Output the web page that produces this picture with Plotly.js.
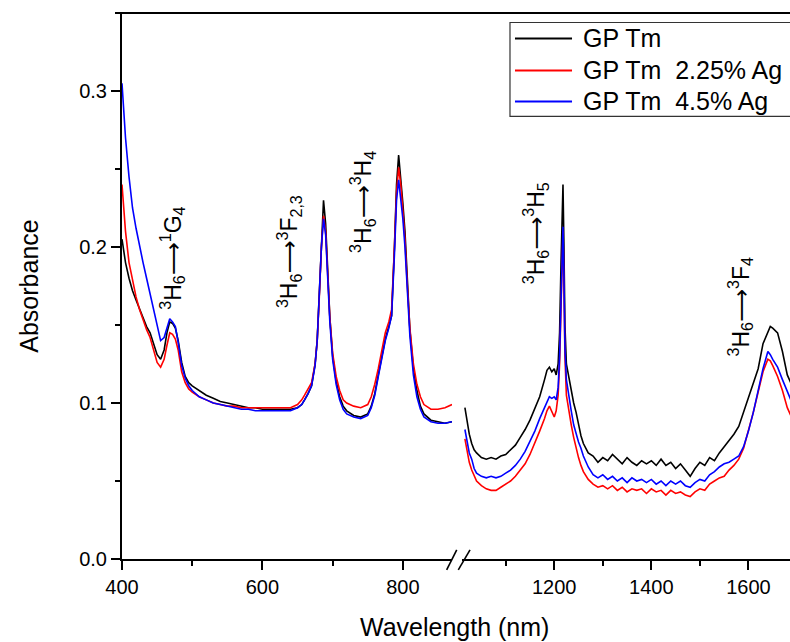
<!DOCTYPE html>
<html>
<head>
<meta charset="utf-8">
<script src="https://cdn.plot.ly/plotly-3.0.1.min.js"></script>
<style>
html,body{margin:0;padding:0;overflow:hidden;background:#fff;}
#chart{width:830px;height:642px;}
</style>
</head>
<body>
<div id="chart"></div>
<script>
// ---- data ----
const seriesNames = ["GP Tm", "GP Tm\u00a0 2.25% Ag", "GP Tm\u00a0 4.5% Ag"];
const seriesColors = ["#000000", "#ff0000", "#0000ff"];

const leftWavelength = [400,405,410,415,420,425,430,435,440,445,
  450,455,460,464,468,472,476,480,485,490,
  495,500,510,520,530,540,550,560,570,580,
  590,600,610,620,630,640,650,656,660,665,
  670,675,678,681,684,687,690,693,696,700,
  705,710,715,720,730,740,750,755,760,765,
  770,775,780,784,788,791,794,797,800,803,
  806,810,815,820,825,830,840,850,860,870];

const rightWavelength = [1016,1020,1025,1030,1035,1040,1050,1060,1070,1080,
  1090,1100,1110,1120,1130,1140,1150,1160,1170,1180,
  1185,1190,1195,1200,1204,1208,1211,1214,1216,1218,
  1220,1222,1225,1230,1235,1240,1245,1250,1255,1260,
  1270,1280,1290,1300,1310,1320,1330,1340,1350,1360,
  1370,1380,1390,1400,1410,1420,1430,1440,1450,1460,
  1470,1480,1490,1500,1510,1520,1530,1540,1550,1560,
  1570,1580,1590,1600,1610,1620,1630,1640,1645,1650,
  1660,1670,1680,1690];

const gpTmLeft = [0.205,0.190,0.180,0.172,0.166,0.160,0.154,0.149,0.145,0.138,
  0.131,0.128,0.134,0.145,0.152,0.151,0.148,0.140,0.126,0.117,
  0.113,0.111,0.108,0.105,0.103,0.101,0.100,0.099,0.098,0.097,
  0.097,0.096,0.096,0.096,0.096,0.096,0.097,0.099,0.102,0.106,
  0.111,0.125,0.140,0.170,0.205,0.230,0.215,0.185,0.155,0.130,
  0.114,0.104,0.098,0.095,0.092,0.091,0.093,0.098,0.106,0.118,
  0.130,0.141,0.149,0.156,0.200,0.240,0.259,0.245,0.228,0.210,
  0.180,0.147,0.122,0.108,0.098,0.093,0.089,0.088,0.087,0.088];

const gpTmRight = [0.097,0.088,0.080,0.074,0.070,0.068,0.065,0.064,0.065,0.064,
  0.066,0.067,0.070,0.073,0.078,0.083,0.089,0.096,0.104,0.115,
  0.121,0.123,0.120,0.122,0.118,0.125,0.145,0.190,0.225,0.240,
  0.200,0.150,0.125,0.116,0.107,0.100,0.094,0.086,0.079,0.074,
  0.068,0.066,0.062,0.065,0.063,0.067,0.064,0.061,0.065,0.062,
  0.060,0.063,0.061,0.063,0.060,0.064,0.060,0.062,0.058,0.061,
  0.057,0.053,0.058,0.062,0.060,0.065,0.063,0.068,0.072,0.076,
  0.080,0.085,0.094,0.104,0.113,0.122,0.138,0.146,0.149,0.148,
  0.145,0.133,0.118,0.111];

const ag225Left = [0.240,0.210,0.190,0.178,0.168,0.160,0.153,0.147,0.142,0.134,
  0.126,0.123,0.128,0.137,0.145,0.144,0.141,0.134,0.120,0.113,
  0.109,0.107,0.104,0.102,0.100,0.099,0.098,0.098,0.097,0.097,
  0.097,0.097,0.097,0.097,0.097,0.097,0.099,0.102,0.105,0.109,
  0.113,0.125,0.140,0.168,0.200,0.220,0.210,0.182,0.155,0.132,
  0.117,0.108,0.102,0.100,0.098,0.097,0.099,0.104,0.112,0.122,
  0.134,0.145,0.152,0.160,0.200,0.235,0.251,0.240,0.223,0.205,
  0.178,0.148,0.125,0.112,0.104,0.099,0.096,0.096,0.097,0.099];

const ag225Right = [0.077,0.070,0.062,0.057,0.053,0.050,0.047,0.045,0.044,0.044,
  0.046,0.048,0.050,0.053,0.057,0.061,0.067,0.074,0.082,0.090,
  0.095,0.098,0.094,0.091,0.095,0.105,0.125,0.170,0.200,0.210,
  0.175,0.130,0.105,0.094,0.086,0.078,0.071,0.065,0.060,0.056,
  0.051,0.048,0.046,0.047,0.045,0.047,0.044,0.046,0.043,0.045,
  0.044,0.045,0.042,0.045,0.043,0.044,0.041,0.044,0.042,0.043,
  0.041,0.040,0.043,0.045,0.044,0.048,0.050,0.052,0.053,0.057,
  0.060,0.064,0.071,0.082,0.094,0.107,0.120,0.128,0.127,0.124,
  0.117,0.108,0.097,0.090];

const ag45Left = [0.305,0.270,0.245,0.225,0.212,0.200,0.190,0.180,0.170,0.160,
  0.148,0.140,0.142,0.148,0.154,0.152,0.149,0.139,0.124,0.116,
  0.111,0.108,0.104,0.102,0.100,0.099,0.098,0.097,0.096,0.096,
  0.095,0.095,0.095,0.095,0.095,0.095,0.097,0.099,0.102,0.106,
  0.111,0.124,0.140,0.170,0.200,0.218,0.208,0.180,0.152,0.128,
  0.112,0.102,0.096,0.093,0.091,0.090,0.092,0.097,0.105,0.117,
  0.129,0.140,0.148,0.156,0.195,0.230,0.243,0.232,0.218,0.200,
  0.172,0.143,0.118,0.104,0.096,0.091,0.088,0.087,0.087,0.088];

const ag45Right = [0.083,0.075,0.068,0.064,0.058,0.055,0.053,0.052,0.053,0.052,
  0.053,0.055,0.057,0.060,0.064,0.069,0.075,0.082,0.090,0.097,
  0.101,0.104,0.103,0.104,0.102,0.110,0.130,0.175,0.205,0.213,
  0.180,0.135,0.115,0.104,0.095,0.086,0.080,0.075,0.071,0.066,
  0.059,0.054,0.052,0.054,0.051,0.053,0.050,0.052,0.049,0.052,
  0.050,0.051,0.049,0.051,0.048,0.050,0.047,0.050,0.048,0.050,
  0.047,0.046,0.049,0.051,0.050,0.054,0.056,0.059,0.061,0.062,
  0.064,0.066,0.072,0.082,0.094,0.108,0.122,0.133,0.131,0.128,
  0.123,0.115,0.108,0.100];

const ARROW = "<span style=\"font-family:'DejaVu Sans'\">\u27F6</span>";
const transitionLabels = [
  "<sup>3</sup>H<sub>6</sub>" + ARROW + "<sup>1</sup>G<sub>4</sub>",
  "<sup>3</sup>H<sub>6</sub>" + ARROW + "<sup>3</sup>F<sub>2,3</sub>",
  "<sup>3</sup>H<sub>6</sub>" + ARROW + "<sup>3</sup>H<sub>4</sub>",
  "<sup>3</sup>H<sub>6</sub>" + ARROW + "<sup>3</sup>H<sub>5</sub>",
  "<sup>3</sup>H<sub>6</sub>" + ARROW + "<sup>3</sup>F<sub>4</sub>"
];
const xTitle = "Wavelength (nm)";
const yTitle = "Absorbance";

// ---- figure ----
const FONT = 'Arial, "Liberation Sans", sans-serif';
const leftSeries = [gpTmLeft, ag225Left, ag45Left];
const rightSeries = [gpTmRight, ag225Right, ag45Right];

const traces = [];
for (let i = 0; i < 3; i++) {
  traces.push({x: leftWavelength, y: leftSeries[i], xaxis: 'x', yaxis: 'y', type: 'scatter', mode: 'lines',
    name: seriesNames[i], legendgroup: 's' + i, showlegend: false,
    line: {color: seriesColors[i], width: 1.6}});
  traces.push({x: rightWavelength, y: rightSeries[i], xaxis: 'x2', yaxis: 'y', type: 'scatter', mode: 'lines',
    name: seriesNames[i], legendgroup: 's' + i, showlegend: false,
    line: {color: seriesColors[i], width: 1.6}});
}

const axisCommon = {
  showgrid: false, zeroline: false, showline: true, linecolor: '#000', linewidth: 2,
  ticks: 'outside', ticklen: 9, tickwidth: 2, tickcolor: '#000',
  tickfont: {family: FONT, size: 20, color: '#000'}, anchor: 'y'
};

// label positions (axis coords) for transition annotations
const labelPos = [
  {xref: 'x', x: 471, y: 0.193},
  {xref: 'x', x: 637, y: 0.197},
  {xref: 'x', x: 742, y: 0.229},
  {xref: 'x2', x: 1161, y: 0.209},
  {xref: 'x2', x: 1583, y: 0.162}
];

const annotations = transitionLabels.map((t, i) => ({
  text: t, xref: labelPos[i].xref, yref: 'y', x: labelPos[i].x, y: labelPos[i].y,
  textangle: -90, showarrow: false, xanchor: 'center', yanchor: 'middle',
  font: {family: FONT, size: 23, color: '#000'}
}));

annotations.push({text: xTitle, xref: 'paper', yref: 'paper', x: 0.492, y: -0.124,
  showarrow: false, xanchor: 'center', yanchor: 'middle',
  font: {family: FONT, size: 25, color: '#000'}});

// custom legend
const shapes = [];
const legY = [0.9534, 0.8948, 0.8381];
for (let i = 0; i < 3; i++) {
  shapes.push({type: 'line', xref: 'paper', yref: 'paper', x0: 0.5822, x1: 0.6667, y0: legY[i], y1: legY[i],
    line: {color: seriesColors[i], width: 2}});
  annotations.push({text: seriesNames[i], xref: 'paper', yref: 'paper', x: 0.68, y: legY[i],
    xanchor: 'left', yanchor: 'middle', showarrow: false,
    font: {family: FONT, size: 25, color: '#000'}});
}
shapes.push({type: 'rect', xref: 'paper', yref: 'paper', x0: 0.5748, x1: 1.2, y0: 0.8107, y1: 0.9826,
  line: {color: '#333', width: 1.2}});
// top frame
shapes.push({type: 'line', xref: 'paper', yref: 'paper', x0: -0.008, x1: 1.05, y0: 1, y1: 1,
  line: {color: '#000', width: 2}});
// axis break marks
shapes.push({type: 'line', xref: 'paper', yref: 'paper', x0: 0.481, x1: 0.4959, y0: -0.0198, y1: 0.0168,
  line: {color: '#000', width: 1.6}});
shapes.push({type: 'line', xref: 'paper', yref: 'paper', x0: 0.4982, x1: 0.5156, y0: -0.0198, y1: 0.0168,
  line: {color: '#000', width: 1.6}});

const layout = {
  width: 830, height: 642,
  margin: {l: 122, r: 33, t: 12.5, b: 82.8},
  paper_bgcolor: '#fff', plot_bgcolor: '#fff',
  showlegend: false,
  font: {family: FONT, color: '#000'},
  xaxis: Object.assign({}, axisCommon, {
    domain: [0, 0.4889], range: [400, 870], tick0: 400, dtick: 200,
    minor: {tick0: 400, dtick: 100, ticks: 'outside', ticklen: 5, tickwidth: 2, tickcolor: '#000', showgrid: false}
  }),
  xaxis2: Object.assign({}, axisCommon, {
    domain: [0.5037, 1], range: [1010, 1700], tick0: 1200, dtick: 200,
    minor: {tick0: 1100, dtick: 100, ticks: 'outside', ticklen: 5, tickwidth: 2, tickcolor: '#000', showgrid: false}
  }),
  yaxis: {
    domain: [0, 1], range: [0, 0.35], tick0: 0, dtick: 0.1, tickformat: '.1f',
    showgrid: false, zeroline: false, showline: true, linecolor: '#000', linewidth: 2,
    ticks: 'outside', ticklen: 9, tickwidth: 2, tickcolor: '#000',
    minor: {dtick: 0.05, ticks: 'outside', ticklen: 5, tickwidth: 2, tickcolor: '#000', showgrid: false},
    tickfont: {family: FONT, size: 20, color: '#000'},
    title: {text: yTitle, font: {family: FONT, size: 25, color: '#000'}, standoff: 33}
  },
  annotations: annotations,
  shapes: shapes
};

Plotly.newPlot('chart', traces, layout, {staticPlot: true, displayModeBar: false});
</script>
</body>
</html>
